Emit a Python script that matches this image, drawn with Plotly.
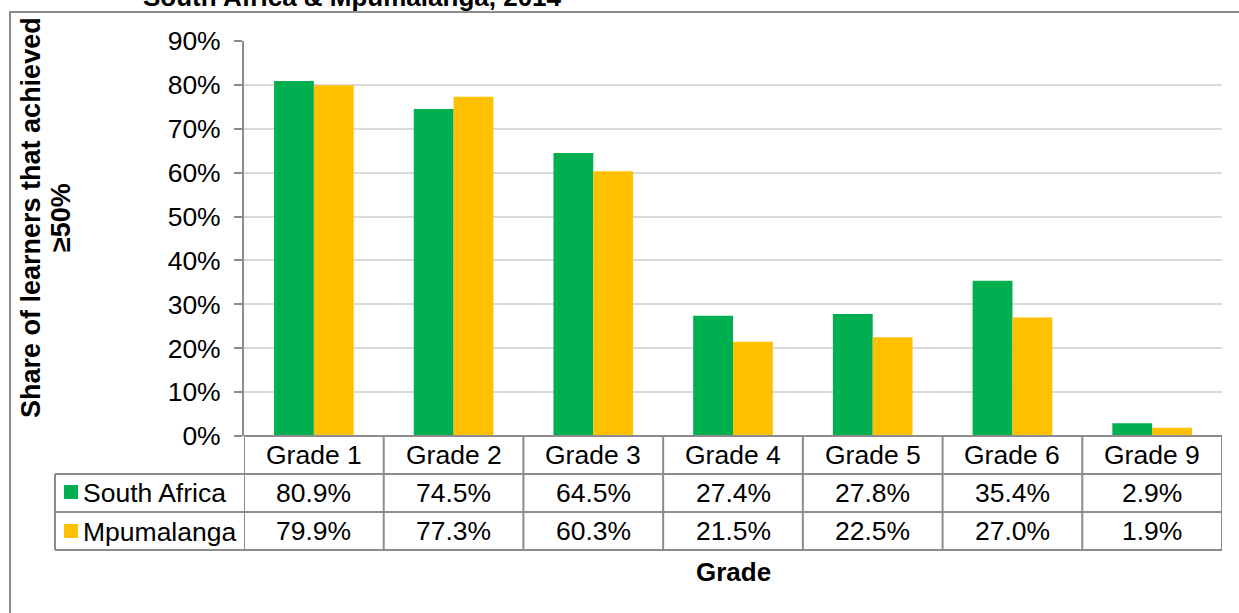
import plotly.graph_objects as go

grades = ["Grade 1", "Grade 2", "Grade 3", "Grade 4", "Grade 5", "Grade 6", "Grade 9"]
south_africa = [80.9, 74.5, 64.5, 27.4, 27.8, 35.4, 2.9]
mpumalanga = [79.9, 77.3, 60.3, 21.5, 22.5, 27.0, 1.9]
series_names = ["South Africa", "Mpumalanga"]
colors = ["#00B050", "#FFC000"]
title_text = "South Africa & Mpumalanga, 2014"
ytitle_lines = ["Share of learners that achieved", "≥50%"]
xtitle = "Grade"

W, H = 1239, 613
L, R, T, B = 244, 1222, 41, 436

def px(xp):
    return (xp - L) / (R - L)

def py(yp):
    return (B - yp) / (B - T)

xs = list(range(len(grades)))
fig = go.Figure()
for name, vals, c in zip(series_names, [south_africa, mpumalanga], colors):
    fig.add_trace(go.Bar(x=xs, y=[v / 100 for v in vals], name=name, marker_color=c,
                         marker_line_width=0, showlegend=False))

font_family = "Liberation Sans, Arial, sans-serif"
FS = 26.5
line_col = "#8c8c8c"
shapes = []
annotations = []

# outer chart border
shapes.append(dict(type="rect", xref="paper", yref="paper", x0=px(10), x1=px(1300),
                   y0=py(700), y1=py(12), line=dict(color=line_col, width=2), layer="below"))

# table lines
row_y = [B, 474, 512, 550]
for i, yv in enumerate(row_y):
    x0 = px(L) if i == 0 else px(55)
    shapes.append(dict(type="line", xref="paper", yref="paper", x0=x0, x1=px(R),
                       y0=py(yv), y1=py(yv), line=dict(color=line_col, width=2)))
shapes.append(dict(type="line", xref="paper", yref="paper", x0=px(55), x1=px(55),
                   y0=py(474), y1=py(550), line=dict(color=line_col, width=2)))
for k in range(len(grades) + 1):
    shapes.append(dict(type="line", xref="x", yref="paper", x0=k - 0.5, x1=k - 0.5,
                       y0=py(436), y1=py(550), line=dict(color=line_col, width=2)))

tfont = dict(family=font_family, size=FS, color="#000000")
for i, g in enumerate(grades):
    for txt, yc in [(g, 455), (f"{south_africa[i]:.1f}%", 493), (f"{mpumalanga[i]:.1f}%", 531)]:
        annotations.append(dict(x=i, y=py(yc), xref="x", yref="paper", text=txt,
                                xanchor="center", yanchor="middle", showarrow=False, font=tfont))

for name, c, yc in zip(series_names, colors, [492, 531]):
    shapes.append(dict(type="rect", xref="paper", yref="paper", x0=px(64), x1=px(78),
                       y0=py(yc + 7), y1=py(yc - 7), fillcolor=c, line=dict(width=0)))
    annotations.append(dict(x=px(81), y=py(yc + 1), xref="paper", yref="paper", text=name,
                            xanchor="left", yanchor="middle", showarrow=False, font=tfont))

# axis titles (y title as two lines for tighter spacing)
for txt, xc in zip(ytitle_lines, [31, 61]):
    annotations.append(dict(x=px(xc), y=py(218), xref="paper", yref="paper",
                            text=f"<b>{txt}</b>", textangle=-90,
                            xanchor="center", yanchor="middle", showarrow=False,
                            font=dict(family=font_family, size=27, color="#000000")))
annotations.append(dict(x=px(733), y=py(572), xref="paper", yref="paper", text=f"<b>{xtitle}</b>",
                        xanchor="center", yanchor="middle",
                        showarrow=False, font=dict(family=font_family, size=26, color="#000000")))
annotations.append(dict(x=px(141), y=py(-3), xref="paper", yref="paper", text="<b>" + title_text + "</b>",
                        xanchor="left", yanchor="middle", showarrow=False,
                        font=dict(family=font_family, size=26, color="#000000")))

fig.update_layout(
    width=W, height=H,
    margin=dict(l=L, r=W - R, t=T, b=H - B, pad=0),
    paper_bgcolor="white", plot_bgcolor="white",
    barmode="group", bargap=0.43, bargroupgap=0,
    font=dict(family=font_family, size=FS, color="#000000"),
    xaxis=dict(range=[-0.5, len(grades) - 0.5], showticklabels=False, showgrid=False,
               zeroline=False, showline=False, ticks=""),
    yaxis=dict(range=[0, 0.9], dtick=0.1, tickformat=".0%", showgrid=True,
               gridcolor="#d9d9d9", gridwidth=2, zeroline=False, showline=True,
               linecolor=line_col, linewidth=2, ticks="outside", ticklen=8,
               tickcolor=line_col, tickwidth=2, ticklabelstandoff=8,
               tickfont=dict(family=font_family, size=FS, color="#000000")),
    shapes=shapes, annotations=annotations,
)

fig.write_html("out.html", config={"displayModeBar": False},
               post_script="document.body.style.margin='0px';")
